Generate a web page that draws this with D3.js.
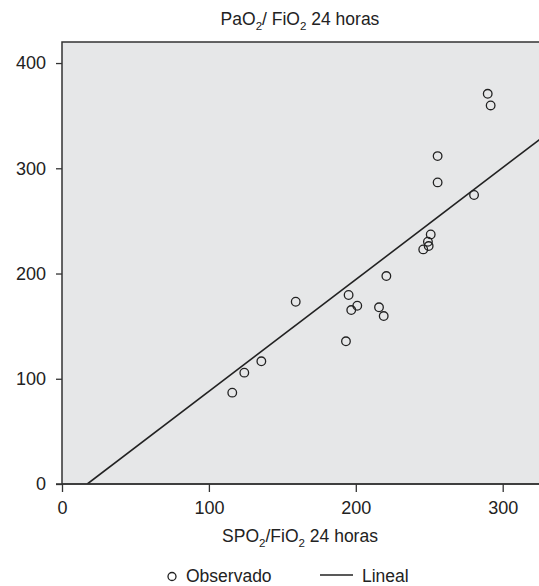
<!DOCTYPE html>
<html>
<head>
<meta charset="utf-8">
<script src="https://cdn.jsdelivr.net/npm/d3@7"></script>
<style>
  body { margin: 0; background: #fff; }
  svg { display: block; font-family: "Liberation Sans", Arial, sans-serif; }
</style>
</head>
<body>
<div id="chart"></div>
<script>
var spo2 = [115.9, 124.1, 135.7, 159.1, 193.3, 195.1, 196.9, 201.0, 215.8, 219.0,
            220.8, 245.9, 249.6, 249.1, 251.0, 255.7, 255.7, 280.5, 289.8, 291.8];
var pao2 = [86.8, 105.8, 116.6, 173.2, 135.6, 179.6, 165.3, 169.4, 167.9, 159.6,
            197.6, 222.9, 226.1, 230.2, 237.2, 286.6, 311.6, 274.6, 370.8, 359.7];
var xTicks = [0, 100, 200, 300],
    yTicks = [0, 100, 200, 300, 400];
// fitted line (lineal)
var fitSlope = 1.063,
    fitIntercept = -18.3;

var width = 539,
    height = 586;

var svg = d3.select("#chart").append("svg")
    .attr("width", width)
    .attr("height", height);

var x = d3.scaleLinear().domain([0, 330]).range([62, 62 + 330 * 1.469]),
    y = d3.scaleLinear().domain([0, 420]).range([484, 42]);

svg.append("clipPath").attr("id", "plotclip")
    .append("rect")
    .attr("x", x(0)).attr("y", y(420))
    .attr("width", x(330) - x(0)).attr("height", y(0) - y(420));

// plot background and frame
svg.append("rect")
    .attr("x", x(0)).attr("y", y(420))
    .attr("width", x(330) - x(0)).attr("height", y(0) - y(420))
    .attr("fill", "#e6e7e8")
    .attr("stroke", "#333")
    .attr("stroke-width", 1.5);

var g = svg.append("g").attr("clip-path", "url(#plotclip)");

// regression line
var x0 = -fitIntercept / fitSlope;
g.append("line")
    .attr("x1", x(x0)).attr("y1", y(0))
    .attr("x2", x(330)).attr("y2", y(fitSlope * 330 + fitIntercept))
    .attr("stroke", "#222")
    .attr("stroke-width", 1.6);

// observed points
g.selectAll("circle.obs")
    .data(spo2)
    .enter().append("circle")
    .attr("class", "obs")
    .attr("cx", function(d) { return x(d); })
    .attr("cy", function(d, i) { return y(pao2[i]); })
    .attr("r", 4.3)
    .attr("fill", "none")
    .attr("stroke", "#222")
    .attr("stroke-width", 1.3);

// axes
var xAxis = svg.append("g")
    .attr("transform", "translate(0," + y(0) + ")")
    .call(d3.axisBottom(x).tickValues(xTicks).tickSize(8).tickPadding(9));
var yAxis = svg.append("g")
    .attr("transform", "translate(" + x(0) + ",0)")
    .call(d3.axisLeft(y).tickValues(yTicks).tickSize(6).tickPadding(10));

[xAxis, yAxis].forEach(function(a) {
    a.select(".domain").remove();
    a.selectAll("line").attr("stroke", "#333").attr("stroke-width", 1.3);
    a.selectAll("text")
        .attr("fill", "#222")
        .style("font-size", "18px")
        .style("font-family", "'Liberation Sans', Arial, sans-serif");
});
svg.append("line")
    .attr("x1", x(0) - 6).attr("x2", x(330))
    .attr("y1", y(0)).attr("y2", y(0))
    .attr("stroke", "#333").attr("stroke-width", 1.5);

// text with subscripts
function subText(px, py, size, parts) {
    var t = svg.append("text")
        .attr("x", px).attr("y", py)
        .attr("text-anchor", "middle")
        .attr("fill", "#222")
        .style("font-size", size + "px");
    parts.forEach(function(p) {
        var s = t.append("tspan").text(p[0]);
        if (p[1]) {
            s.attr("dy", size * 0.3).style("font-size", (size * 0.66) + "px");
        } else if (p[2]) {
            s.attr("dy", -size * 0.3);
        }
    });
    return t;
}

subText(300, 24.5, 17.5, [["PaO"], ["2", true], ["/ FiO", false, true], ["2", true], [" 24 horas", false, true]]);
subText(300, 541.5, 17.5, [["SPO"], ["2", true], ["/FiO", false, true], ["2", true], [" 24 horas", false, true]]);

// legend
var leg = svg.append("g");
leg.append("circle")
    .attr("cx", 172).attr("cy", 576.5).attr("r", 4)
    .attr("fill", "none").attr("stroke", "#222").attr("stroke-width", 1.3);
leg.append("text")
    .attr("x", 186).attr("y", 582)
    .attr("fill", "#222").style("font-size", "17.5px")
    .text("Observado");
leg.append("line")
    .attr("x1", 320).attr("x2", 353).attr("y1", 575).attr("y2", 575)
    .attr("stroke", "#222").attr("stroke-width", 1.6);
leg.append("text")
    .attr("x", 362).attr("y", 582)
    .attr("fill", "#222").style("font-size", "17.5px")
    .text("Lineal");
</script>
</body>
</html>
